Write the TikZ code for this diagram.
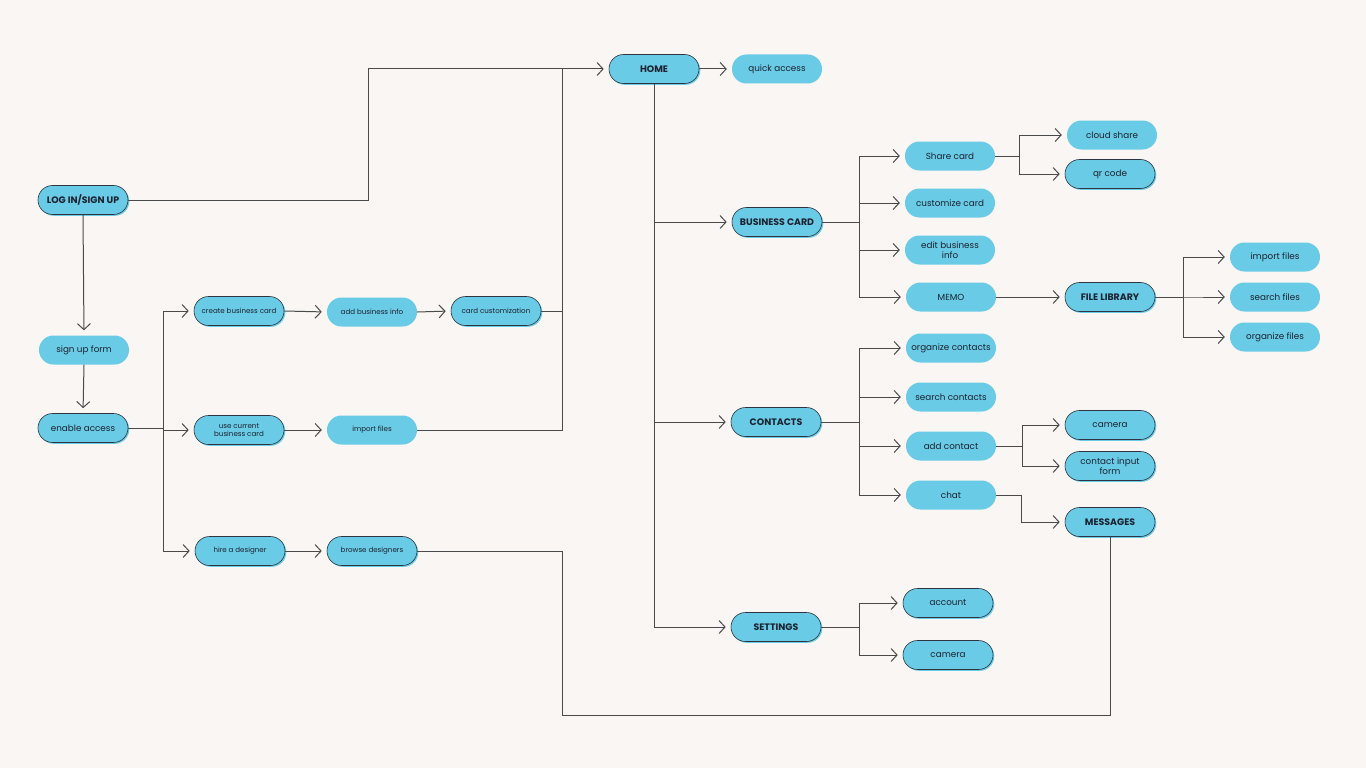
\documentclass[tikz,border=0pt]{standalone}
\usepackage{fontspec}
\setmainfont{Poppins}
\usetikzlibrary{arrows.meta}
\definecolor{bg}{HTML}{F9F6F3}
\definecolor{nodeblue}{HTML}{69CBE5}
\definecolor{txt}{HTML}{1C2230}
\definecolor{ln}{HTML}{4A4A4A}
\definecolor{ol}{HTML}{2E3440}
\tikzset{
  box/.style={rectangle, rounded corners=14.5pt, minimum width=90pt, minimum height=29pt,
    inner sep=1pt, fill=nodeblue, text=txt, align=center, font=\fontsize{8.8}{9.6}\selectfont},
  olbox/.style={box, draw=ol, line width=0.6pt,
    preaction={fill=nodeblue, transform canvas={shift={(1.3pt,-1.3pt)}}}},
  small/.style={font=\fontsize{7.1}{7.9}\selectfont},
  title/.style={font=\fontsize{9.4}{10}\selectfont\bfseries},
  conn/.style={draw=ln, line width=1pt},
  arr/.style={conn, -{Straight Barb[length=6pt,width=13pt,line width=1pt]}, shorten >=5pt},
}
\begin{document}
\begin{tikzpicture}[x=1pt,y=-1pt]
\fill[bg] (0,0) rectangle (1366,768);
\useasboundingbox (0,0) rectangle (1366,768);
% left column
\node[olbox,title] (login) at (83,200) {LOG IN/SIGN UP};
\node[box] (signup) at (84,350) {sign up form};
\node[olbox] (enable) at (83,428) {enable access};
\node[olbox,small] (create) at (239,311) {create business card};
\node[olbox,small] (usecur) at (239,430) {use current\\business card};
\node[olbox,small] (hire) at (240,551) {hire a designer};
\node[box,small] (addinfo) at (372,312) {add business info};
\node[box,small] (importL) at (372,430) {import files};
\node[olbox,small] (browse) at (372,551) {browse designers};
\node[olbox,small] (cardcust) at (496,311) {card customization};
% home column
\node[olbox,title] (home) at (654,69) {HOME};
\node[box] (quick) at (777,69) {quick access};
\node[olbox,title] (bcard) at (777,222) {BUSINESS CARD};
\node[olbox,title] (contacts) at (776,422) {CONTACTS};
\node[olbox,title] (settings) at (776,627) {SETTINGS};
% business card children
\node[box] (share) at (950,156) {Share card};
\node[box] (customize) at (950,203) {customize card};
\node[box] (edit) at (950,250) {edit business\\info};
\node[box] (memo) at (951,297) {MEMO};
\node[box] (cloud) at (1112,135) {cloud share};
\node[olbox] (qr) at (1110,174) {qr code};
\node[olbox,title] (filelib) at (1110,297) {FILE LIBRARY};
\node[box] (importR) at (1275,257) {import files};
\node[box] (searchf) at (1275,297) {search files};
\node[box] (orgf) at (1275,337) {organize files};
% contacts children
\node[box] (orgc) at (951,348) {organize contacts};
\node[box] (searchc) at (951,397) {search contacts};
\node[box] (addc) at (951,446) {add contact};
\node[box] (chat) at (951,495) {chat};
\node[olbox] (cam1) at (1110,425) {camera};
\node[olbox] (cif) at (1110,466) {contact input\\form};
\node[olbox,title] (messages) at (1110,522) {MESSAGES};
% settings children
\node[olbox] (account) at (948,603) {account};
\node[olbox] (cam2) at (948,655) {camera};
% junction coordinates
\coordinate (j1) at (368,69);
\coordinate (j2) at (562,69);
\coordinate (j3) at (562,715);
% connectors left
\draw[arr] (login.east) -| (j1) -- (home.west);
\draw[conn] (cardcust.east) -| (j2);
\draw[conn] (importL.east) -| (j2);
\draw[conn] (browse.east) -| (j3) -| (messages.south);
\draw[arr] (login.south) -- (signup.north);
\draw[arr] (signup.south) -- (enable.north);
\draw[arr] (enable.east) -- ++(35,0) |- (create.west);
\draw[arr] (enable.east) -- ++(35,0) |- (usecur.west);
\draw[arr] (enable.east) -- ++(35,0) |- (hire.west);
\draw[arr] (create.east) -- (addinfo.west);
\draw[arr] (addinfo.east) -- (cardcust.west);
\draw[arr] (usecur.east) -- (importL.west);
\draw[arr] (hire.east) -- (browse.west);
% home
\draw[arr] (home.east) -- (quick.west);
\draw[arr] (home.south) |- (bcard.west);
\draw[arr] (home.south) |- (contacts.west);
\draw[arr] (home.south) |- (settings.west);
% business card
\foreach \c in {share,customize,edit,memo}
  \draw[arr] (bcard.east) -- ++(37,0) |- (\c.west);
\foreach \c in {cloud,qr}
  \draw[arr] (share.east) -- ++(24,0) |- (\c.west);
\draw[arr] (memo.east) -- (filelib.west);
\foreach \c in {importR,searchf,orgf}
  \draw[arr] (filelib.east) -- ++(28,0) |- (\c.west);
% contacts
\foreach \c in {orgc,searchc,addc,chat}
  \draw[arr] (contacts.east) -- ++(38,0) |- (\c.west);
\foreach \c in {cam1,cif}
  \draw[arr] (addc.east) -- ++(26,0) |- (\c.west);
\draw[arr] (chat.east) -- ++(25,0) |- (messages.west);
% settings
\foreach \c in {account,cam2}
  \draw[arr] (settings.east) -- ++(38,0) |- (\c.west);
\end{tikzpicture}
\end{document}
